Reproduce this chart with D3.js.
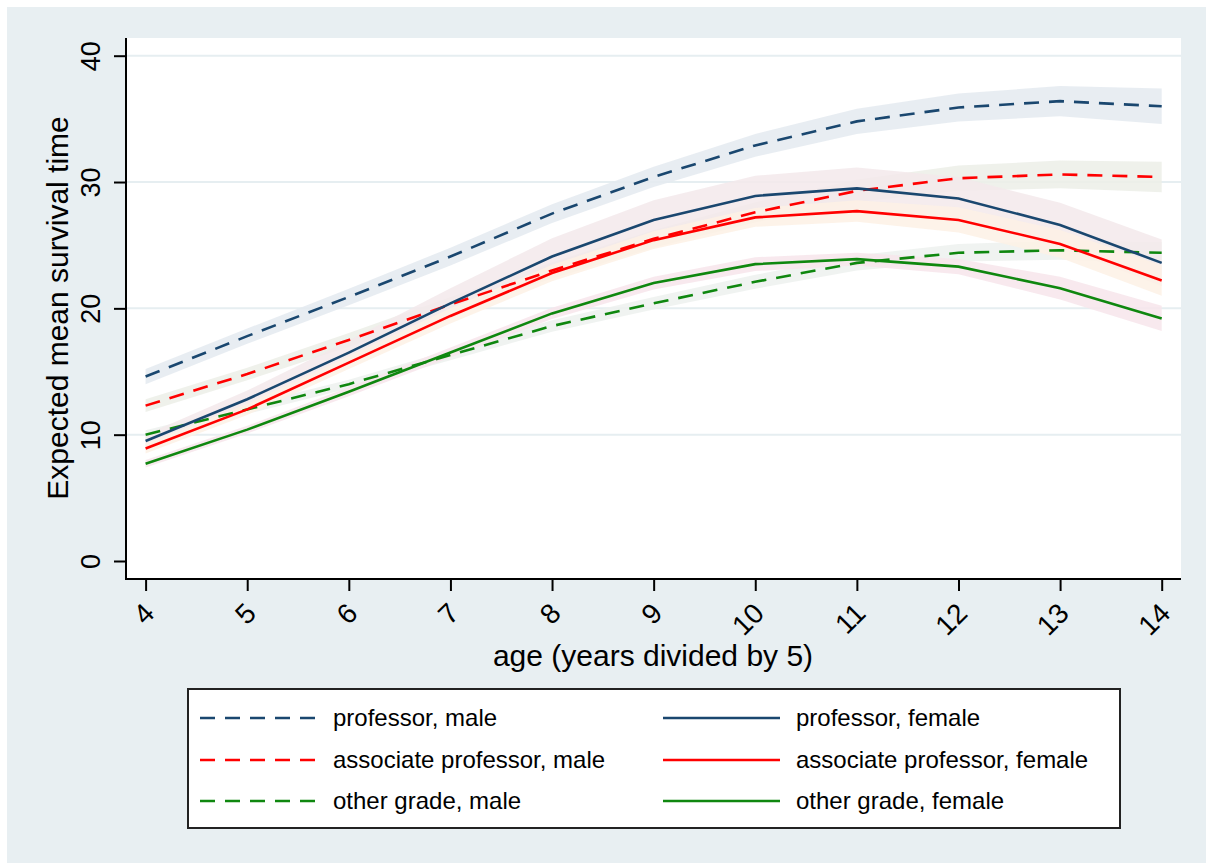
<!DOCTYPE html>
<html>
<head>
<meta charset="utf-8">
<script src="https://cdn.jsdelivr.net/npm/d3@7"></script>
<style>
  html, body { margin: 0; padding: 0; background: #ffffff; }
  svg { display: block; }
  text { font-family: "Liberation Sans", Arial, Helvetica, sans-serif; fill: #000; }
</style>
</head>
<body>
<svg id="chart" width="1206" height="863"></svg>
<script>
// Age groups (years divided by 5) used as x positions and tick labels
const ages = [4, 5, 6, 7, 8, 9, 10, 11, 12, 13, 14];
const yTicks = [0, 10, 20, 30, 40];
const gridValues = [10, 20, 30, 40];

// Expected mean survival time by grade and sex
const profMale    = [14.6, 17.8, 20.9, 24.1, 27.5, 30.4, 32.9, 34.8, 35.9, 36.4, 36.0];
const assocMale   = [12.3, 14.8, 17.5, 20.3, 23.0, 25.5, 27.6, 29.3, 30.3, 30.6, 30.4];
const otherMale   = [10.0, 12.0, 14.0, 16.3, 18.6, 20.4, 22.1, 23.6, 24.4, 24.6, 24.4];
const profFemale  = [9.5, 12.8, 16.5, 20.4, 24.1, 27.0, 28.9, 29.5, 28.7, 26.6, 23.6];
const assocFemale = [8.9, 12.0, 15.7, 19.4, 22.8, 25.4, 27.2, 27.7, 27.0, 25.1, 22.2];
const otherFemale = [7.7, 10.4, 13.4, 16.5, 19.6, 22.0, 23.5, 23.9, 23.3, 21.6, 19.2];

// Half-widths of the confidence bands around each curve
const profMaleCI    = [0.6, 0.6, 0.65, 0.7, 0.75, 0.8, 0.9, 1.0, 1.1, 1.2, 1.4];
const assocMaleCI   = [0.5, 0.5, 0.55, 0.6, 0.65, 0.7, 0.8, 0.9, 1.0, 1.1, 1.2];
const otherMaleCI   = [0.35, 0.35, 0.35, 0.4, 0.45, 0.5, 0.55, 0.6, 0.7, 0.75, 0.85];
const profFemaleCI  = [0.5, 0.7, 0.95, 1.2, 1.45, 1.55, 1.6, 1.65, 1.7, 1.75, 1.85];
const assocFemaleCI = [0.4, 0.45, 0.5, 0.6, 0.65, 0.7, 0.75, 0.85, 1.0, 1.1, 1.2];
const otherFemaleCI = [0.3, 0.3, 0.35, 0.4, 0.45, 0.5, 0.55, 0.5, 0.6, 0.9, 1.0];

const seriesNames = [
  "professor, male", "associate professor, male", "other grade, male",
  "professor, female", "associate professor, female", "other grade, female"
];

const NAVY = "#1a476f", RED = "#ff0000", GREEN = "#0f870f";

const series = [
  { name: seriesNames[0], values: profMale,    ci: profMaleCI,    color: NAVY,  dashed: true,  band: "#e4eaf0" },
  { name: seriesNames[1], values: assocMale,   ci: assocMaleCI,   color: RED,   dashed: true,  band: "#ecefe8" },
  { name: seriesNames[2], values: otherMale,   ci: otherMaleCI,   color: GREEN, dashed: true,  band: "#edf1ee" },
  { name: seriesNames[3], values: profFemale,  ci: profFemaleCI,  color: NAVY,  dashed: false, band: "#f3e9eb" },
  { name: seriesNames[4], values: assocFemale, ci: assocFemaleCI, color: RED,   dashed: false, band: "#fdf1e5" },
  { name: seriesNames[5], values: otherFemale, ci: otherFemaleCI, color: GREEN, dashed: false, band: "#f7e5eb" }
];

const svg = d3.select("#chart");
const W = 1206, H = 863;
const BG = "#e8eff2";
const DASH = "15,10";

// Outer graph region
svg.append("rect").attr("x", 7).attr("y", 7).attr("width", W - 7).attr("height", H - 7).attr("fill", BG);

// Plot region
const plot = { left: 126, right: 1181, top: 38, bottom: 579 };
svg.append("rect")
  .attr("x", plot.left).attr("y", plot.top)
  .attr("width", plot.right - plot.left).attr("height", plot.bottom - plot.top)
  .attr("fill", "#ffffff");

const x = d3.scaleLinear().domain([4, 14]).range([145.6, 1161.7]);
const y = d3.scaleLinear().domain([0, 40]).range([561, 55.7]);

// Horizontal gridlines
svg.append("g").selectAll("line").data(gridValues).join("line")
  .attr("x1", plot.left).attr("x2", plot.right)
  .attr("y1", d => y(d)).attr("y2", d => y(d))
  .attr("stroke", "#e6eef1").attr("stroke-width", 2);

// Confidence bands
const area = d3.area()
  .x((d, i) => x(ages[i]))
  .y0(d => y(d.lo))
  .y1(d => y(d.hi));

svg.append("g").selectAll("path").data(series).join("path")
  .attr("d", s => area(s.values.map((v, i) => ({ lo: v - s.ci[i], hi: v + s.ci[i] }))))
  .attr("fill", s => s.band)
  .attr("fill-opacity", 0.85);

// Curves
const line = d3.line().x((d, i) => x(ages[i])).y(d => y(d));
svg.append("g").selectAll("path").data(series).join("path")
  .attr("d", s => line(s.values))
  .attr("fill", "none")
  .attr("stroke", s => s.color)
  .attr("stroke-width", 2.6)
  .attr("stroke-dasharray", s => s.dashed ? DASH : null);

// Y axis
const yAxis = svg.append("g")
  .attr("transform", `translate(${plot.left},0)`)
  .call(d3.axisLeft(y).tickValues(yTicks).tickSize(12).tickPadding(0).tickFormat(d3.format("d")));
yAxis.select(".domain").remove();
yAxis.selectAll(".tick line").attr("stroke", "#000").attr("stroke-width", 2);
yAxis.selectAll(".tick text")
  .attr("font-size", 27)
  .attr("text-anchor", "middle")
  .attr("transform", "translate(-26,0) rotate(-90)")
  .attr("x", 0).attr("dy", "0")
  .attr("y", 0);
svg.append("line")
  .attr("x1", plot.left).attr("x2", plot.left)
  .attr("y1", plot.top).attr("y2", plot.bottom + 1)
  .attr("stroke", "#000").attr("stroke-width", 2);

// X axis
const xAxis = svg.append("g")
  .attr("transform", `translate(0,${plot.bottom})`)
  .call(d3.axisBottom(x).tickValues(ages).tickSize(12).tickFormat(d3.format("d")));
xAxis.select(".domain").remove();
xAxis.selectAll(".tick line").attr("stroke", "#000").attr("stroke-width", 2);
xAxis.selectAll(".tick text")
  .attr("font-size", 28)
  .attr("text-anchor", "end")
  .attr("y", 0).attr("x", 0).attr("dy", "0.35em")
  .attr("transform", "translate(3,29) rotate(-45)");
svg.append("line")
  .attr("x1", plot.left - 1).attr("x2", plot.right)
  .attr("y1", plot.bottom).attr("y2", plot.bottom)
  .attr("stroke", "#000").attr("stroke-width", 2);

// Axis titles
svg.append("text")
  .attr("x", 653).attr("y", 666)
  .attr("text-anchor", "middle")
  .attr("font-size", 30)
  .text("age (years divided by 5)");
svg.append("text")
  .attr("transform", "translate(68,308) rotate(-90)")
  .attr("text-anchor", "middle")
  .attr("font-size", 30)
  .text("Expected mean survival time");

// Legend
const legend = svg.append("g");
legend.append("rect")
  .attr("x", 188).attr("y", 689).attr("width", 932).attr("height", 139)
  .attr("fill", "#ffffff").attr("stroke", "#222").attr("stroke-width", 2);

const colX = [{ line: 200, text: 333 }, { line: 663, text: 796 }];
const rowY = [718, 760, 801];
const keyLen = 117;

const items = legend.selectAll("g.item").data(series).join("g").attr("class", "item")
  .attr("transform", (s, i) => {
    const c = colX[Math.floor(i / 3)], r = rowY[i % 3];
    return `translate(${c.line},${r})`;
  });
items.append("line")
  .attr("x1", 0).attr("x2", keyLen).attr("y1", 0).attr("y2", 0)
  .attr("stroke", s => s.color).attr("stroke-width", 2.6)
  .attr("stroke-dasharray", s => s.dashed ? DASH : null);
items.append("text")
  .attr("x", colX[1].text - colX[1].line)
  .attr("dy", "0.35em")
  .attr("font-size", 24)
  .text(s => s.name);
</script>
</body>
</html>
